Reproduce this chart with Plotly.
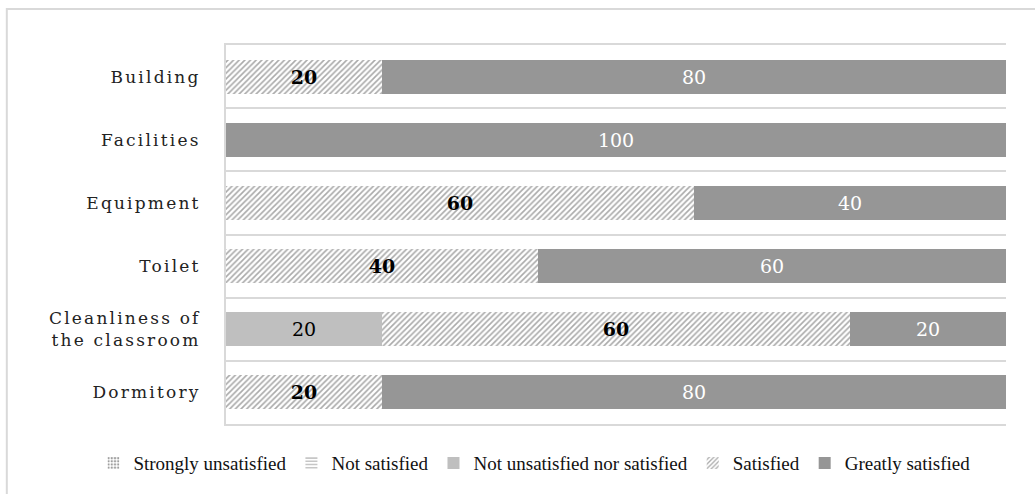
import plotly.graph_objects as go

categories = ["Building", "Facilities", "Equipment", "Toilet",
              "Cleanliness of the classroom", "Dormitory"]
tick_labels = ["Building", "Facilities", "Equipment", "Toilet",
               "Cleanliness of<br>the classroom", "Dormitory"]
strongly_unsatisfied = [0, 0, 0, 0, 0, 0]
not_satisfied = [0, 0, 0, 0, 0, 0]
neutral = [0, 0, 0, 0, 20, 0]
satisfied = [20, 0, 60, 40, 60, 20]
greatly_satisfied = [80, 100, 40, 60, 20, 80]


def labels(vals):
    return [str(v) if v else "" for v in vals]


def spaced(t):
    return "<br>".join('<span style="letter-spacing:2.2px">%s</span>' % p for p in t.split("<br>"))


fig = go.Figure()
series = [
    ("Strongly unsatisfied", strongly_unsatisfied,
     dict(color="white", pattern=dict(shape=".", fgcolor="#404040", bgcolor="white", size=4, solidity=0.4)),
     dict(color="black")),
    ("Not satisfied", not_satisfied,
     dict(color="white", pattern=dict(shape="-", fgcolor="#404040", bgcolor="white", size=4, solidity=0.3)),
     dict(color="black")),
    ("Not unsatisfied nor satisfied", neutral,
     dict(color="#bfbfbf"),
     dict(color="black", family="DejaVu Serif", size=19)),
    ("Satisfied", satisfied,
     dict(color="white", pattern=dict(shape="/", fgcolor="#555555", bgcolor="white", size=4, solidity=0.4)),
     dict(color="black", family="DejaVu Serif", size=19, weight="bold")),
    ("Greatly satisfied", greatly_satisfied,
     dict(color="#969696"),
     dict(color="white", family="DejaVu Serif", size=19)),
]
for name, vals, marker, tf in series:
    fig.add_trace(go.Bar(
        y=categories, x=vals, name=name, orientation="h",
        marker=dict(line=dict(width=0), **marker),
        text=labels(vals), textposition="inside", insidetextanchor="middle",
        textfont=tf, constraintext="none", hoverinfo="skip",
    ))

fig.update_layout(
    barmode="stack",
    bargap=0.46,
    width=1035, height=494,
    margin=dict(l=226, r=29, t=45, b=70, autoexpand=False),
    paper_bgcolor="white", plot_bgcolor="white",
    font=dict(family="Liberation Serif", color="black"),
    showlegend=True,
    legend=dict(orientation="h", x=-0.17, xanchor="left", y=-0.103, yanchor="middle",
                font=dict(family="Liberation Serif", size=19, color="#111"),
                itemwidth=30, traceorder="normal", tracegroupgap=0),
    uniformtext=dict(mode=False),
    shapes=[dict(type="rect", xref="paper", yref="paper",
                 x0=-0.281, x1=1.2, y0=1.095, y1=-0.4,
                 line=dict(color="#d9d9d9", width=2), fillcolor="rgba(0,0,0,0)", layer="below")],
)
fig.update_xaxes(range=[0, 100], showticklabels=False, showgrid=False, zeroline=False,
                 showline=True, mirror=True, linecolor="#d9d9d9", linewidth=2, fixedrange=True)
fig.update_yaxes(type="category", categoryorder="array", categoryarray=categories,
                 tickmode="array", tickvals=categories, ticktext=[spaced(t) for t in tick_labels],
                 autorange="reversed", tickson="boundaries", showgrid=True,
                 gridcolor="#d9d9d9", gridwidth=2, ticks="", showline=True,
                 linecolor="#d9d9d9", linewidth=2,
                 tickfont=dict(family="DejaVu Serif", size=17, color="#222"),
                 ticklabelstandoff=20, zeroline=False)

fig.write_html("out.html")
